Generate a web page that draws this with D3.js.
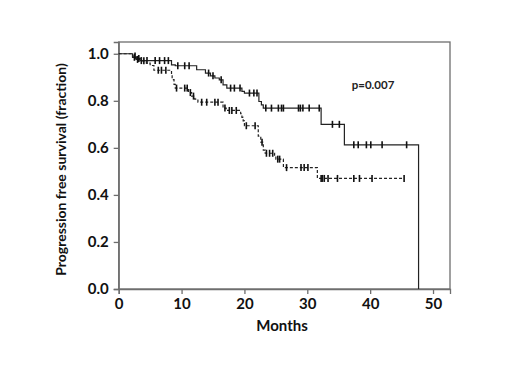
<!DOCTYPE html>
<html>
<head>
<meta charset="utf-8">
<script src="https://cdn.jsdelivr.net/npm/d3@7"></script>
<style>
  body { margin: 0; background: #fff; }
  text { font-family: Lato, "Open Sans", sans-serif; }
</style>
</head>
<body>
<svg id="chart"></svg>
<script>
// tick labels
const xTicks = [0, 10, 20, 30, 40, 50];
const yTicks = [0, 0.2, 0.4, 0.6, 0.8, 1.0];

// solid group: event times and survival after each event
const solidTimes = [2.2, 2.8, 3.4, 8.4, 9.0, 12.4, 13.8, 14.6, 15.3, 16.0, 16.6, 17.2, 19.6, 20.0, 22.3, 22.7, 23.0, 32.2, 35.9, 47.7];
const solidSurv  = [0.985, 0.976, 0.971, 0.953, 0.949, 0.932, 0.918, 0.906, 0.897, 0.889, 0.868, 0.854, 0.84, 0.833, 0.797, 0.783, 0.769, 0.70, 0.613, 0.0];
const solidCensor = [2.5, 3.0, 3.6, 4.5, 5.8, 6.5, 7.3, 7.9, 9.4, 10.5, 11.2, 14.3, 15.0, 16.3, 17.8, 18.4, 19.3, 20.8, 21.5, 22.0,
  23.4, 24.3, 25.4, 25.9, 26.2, 28.6, 28.9, 29.3, 30.3, 31.9, 34.0, 35.1, 37.4, 38.1, 39.4, 40.1, 41.9, 45.8];

// dashed group
const dashTimes = [2.2, 2.8, 3.6, 4.4, 5.0, 5.6, 8.4, 8.5, 8.8, 9.0, 11.1, 11.6, 12.1, 12.6, 16.6, 17.1, 19.4, 19.6, 19.8, 20.0,
  22.2, 22.6, 23.0, 23.3, 24.8, 25.0, 26.2, 31.6];
const dashSurv  = [0.99, 0.98, 0.97, 0.96, 0.95, 0.93, 0.91, 0.89, 0.87, 0.854, 0.835, 0.82, 0.807, 0.794, 0.769, 0.759, 0.745, 0.73, 0.715, 0.694,
  0.65, 0.624, 0.59, 0.577, 0.565, 0.552, 0.516, 0.47];
const dashCensor = [2.6, 3.2, 4.0, 6.3, 6.8, 7.5, 9.2, 10.5, 10.9, 11.4, 11.9, 13.2, 14.0, 15.3, 15.8, 16.9, 17.6, 18.0, 18.7, 20.3,
  21.7, 22.8, 23.5, 24.0, 24.5, 25.3, 25.6, 26.7, 29.0, 29.5, 30.1, 32.2, 32.4, 32.7, 33.3, 34.8, 37.4, 38.3, 40.3, 45.4];
const dashEnd = 45.4;

const pValue = "p=0.007";

const width = 520, height = 390;
const svg = d3.select('#chart').attr('width', width).attr('height', height);

const x = d3.scaleLinear().domain([0, 52.7]).range([118.7, 450]);
const y = d3.scaleLinear().domain([0, 1.05]).range([289, 42]);

const frame = '#6e6e6e';

// box frame
svg.append('rect')
    .attr('x', x(0)).attr('y', y(1.05))
    .attr('width', x(52.7) - x(0)).attr('height', y(0) - y(1.05))
    .attr('fill', 'none').attr('stroke', frame).attr('stroke-width', 1.3);

// axes
const xAxis = d3.axisBottom(x).tickValues(xTicks).tickFormat(d3.format('d')).tickSize(5).tickPadding(4);
const yAxis = d3.axisLeft(y).tickValues(yTicks).tickFormat(d3.format('.1f')).tickSize(5).tickPadding(5);

const xg = svg.append('g').attr('transform', `translate(0,${y(0)})`).call(xAxis);
const yg = svg.append('g').attr('transform', `translate(${x(0)},0)`).call(yAxis);
[xg, yg].forEach(g => {
  g.select('.domain').attr('stroke', frame).attr('stroke-width', 1.3);
  g.selectAll('.tick line').attr('stroke', frame).attr('stroke-width', 1.3);
  g.selectAll('.tick text')
      .attr('fill', '#111')
      .style('font-size', '15px')
      .style('font-weight', 'bold')
      .style('font-family', 'Lato, "Open Sans", sans-serif');
});

// axis titles
svg.append('text')
    .attr('x', 282).attr('y', 331)
    .attr('text-anchor', 'middle')
    .style('font-size', '15px').style('font-weight', 'bold')
    .attr('fill', '#111')
    .text('Months');

svg.append('text')
    .attr('transform', `translate(66,${(y(0) + y(1.05)) / 2 + 4}) rotate(-90)`)
    .attr('text-anchor', 'middle')
    .style('font-size', '14px').style('font-weight', 'bold')
    .attr('fill', '#111')
    .text('Progression free survival (fraction)');

svg.append('text')
    .attr('x', 373).attr('y', 89)
    .attr('text-anchor', 'middle')
    .style('font-size', '11.5px').style('font-weight', 'bold')
    .attr('fill', '#222')
    .text(pValue);

// KM curves
const line = d3.line().x(d => x(d[0])).y(d => y(d[1])).curve(d3.curveStepAfter);

function steps(times, surv, end) {
  const pts = [[0, 1]];
  times.forEach((t, i) => pts.push([t, surv[i]]));
  if (end != null) pts.push([end, surv[surv.length - 1]]);
  return pts;
}

function survAt(times, surv, t) {
  const i = d3.bisectRight(times, t);
  return i === 0 ? 1 : surv[i - 1];
}

const groups = [
  {times: solidTimes, surv: solidSurv, censor: solidCensor, end: null, dash: null},
  {times: dashTimes, surv: dashSurv, censor: dashCensor, end: dashEnd, dash: '3,2'}
];

groups.forEach(g => {
  svg.append('path')
      .datum(steps(g.times, g.surv, g.end))
      .attr('d', line)
      .attr('fill', 'none')
      .attr('stroke', '#222')
      .attr('stroke-width', 1.2)
      .attr('stroke-dasharray', g.dash);

  svg.append('g').selectAll('line')
      .data(g.censor)
    .join('line')
      .attr('x1', d => x(d)).attr('x2', d => x(d))
      .attr('y1', d => y(survAt(g.times, g.surv, d)) - 3.5)
      .attr('y2', d => y(survAt(g.times, g.surv, d)) + 3.5)
      .attr('stroke', '#111')
      .attr('stroke-width', 1.6);
});
</script>
</body>
</html>
